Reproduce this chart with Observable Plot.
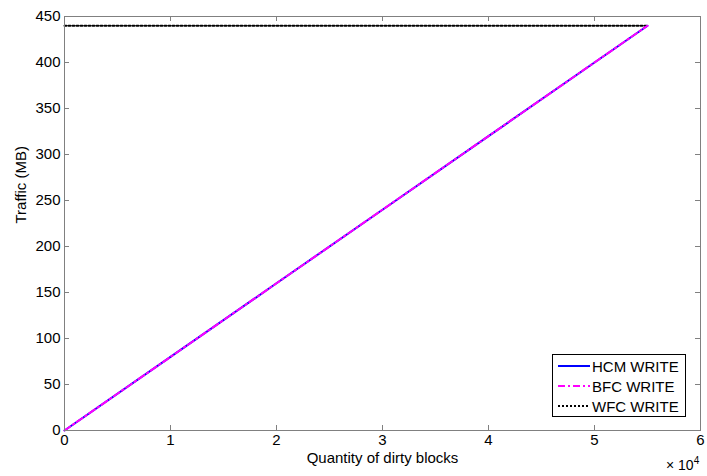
<!DOCTYPE html>
<html>
<head>
<meta charset="utf-8">
<script src="https://cdn.jsdelivr.net/npm/d3@7"></script>
<script src="https://cdn.jsdelivr.net/npm/@observablehq/plot@0.6"></script>
<style>
  html, body { margin: 0; padding: 0; background: #fff; }
  #wrap { position: relative; width: 707px; height: 476px; font-family: "Liberation Sans", Arial, sans-serif; }
  #legend { position: absolute; left: 552px; top: 354px; width: 132px; height: 61px; border: 1px solid #000; background: #fff; font-size: 15px; }
  #legend .row { position: absolute; left: 0; height: 20px; display: flex; align-items: center; }
  #legend svg { margin-left: 5px; margin-right: 2px; }
  #exp { position: absolute; left: 666px; top: 455px; font-size: 14px; }
  #exp sup { font-size: 10px; }
</style>
</head>
<body>
<div id="wrap"></div>
<script>
// Data
const dirtyBlocks = [0, 10000, 20000, 30000, 40000, 50000, 55000];
const hcmWrite   = [0, 80, 160, 240, 320, 400, 440];
const bfcWrite   = [0, 80, 160, 240, 320, 400, 440];
const wfcBlocks  = [0, 55000];
const wfcWrite   = [440, 440];
const xTicks = [0, 10000, 20000, 30000, 40000, 50000, 60000];
const yTicks = [0, 50, 100, 150, 200, 250, 300, 350, 400, 450];
const seriesNames = ["HCM WRITE", "BFC WRITE", "WFC WRITE"];
const seriesColors = ["#0000ff", "#ff00ff", "#000000"];
const seriesDash = [null, "7,3,2,3", "2,2"];

const hcm = dirtyBlocks.map((x, i) => ({x, y: hcmWrite[i]}));
const bfc = dirtyBlocks.map((x, i) => ({x, y: bfcWrite[i]}));
const wfc = wfcBlocks.map((x, i) => ({x, y: wfcWrite[i]}));

const W = 707, H = 476, mL = 64, mR = 7, mT = 16, mB = 46;
const fw = W - mL - mR, fh = H - mT - mB, tl = 5;
const axisColor = "#808080";

const chart = Plot.plot({
  width: W, height: H,
  marginLeft: mL, marginRight: mR, marginTop: mT, marginBottom: mB,
  style: {fontFamily: "'Liberation Sans', Arial, sans-serif", fontSize: "15px", color: "#000", background: "#fff"},
  x: {domain: [0, 60000], axis: null},
  y: {domain: [0, 450], axis: null},
  marks: [
    Plot.line(wfc, {x: "x", y: "y", stroke: seriesColors[2], strokeWidth: 2, strokeDasharray: seriesDash[2]}),
    Plot.line(hcm, {x: "x", y: "y", stroke: seriesColors[0], strokeWidth: 2}),
    Plot.line(bfc, {x: "x", y: "y", stroke: seriesColors[1], strokeWidth: 2, strokeDasharray: seriesDash[1]}),
    Plot.frame({stroke: axisColor}),
    // inward ticks on all four sides
    Plot.ruleX(xTicks, {x: d => d, stroke: axisColor, insetTop: fh - tl}),
    Plot.ruleX(xTicks, {x: d => d, stroke: axisColor, insetBottom: fh - tl}),
    Plot.ruleY(yTicks, {y: d => d, stroke: axisColor, insetRight: fw - tl}),
    Plot.ruleY(yTicks, {y: d => d, stroke: axisColor, insetLeft: fw - tl}),
    Plot.axisX({anchor: "bottom", ticks: xTicks, tickSize: 0, tickPadding: 4, tickFormat: d => d / 1e4, label: null, fontSize: 15}),
    Plot.axisY({anchor: "left", ticks: yTicks, tickSize: 0, tickPadding: 4, label: null, fontSize: 15}),
    Plot.text(["Quantity of dirty blocks"], {frameAnchor: "bottom", dy: 32, fontSize: 15, fill: "#000"}),
    Plot.text(["Traffic (MB)"], {frameAnchor: "left", dx: -43, rotate: -90, fontSize: 15, fill: "#000"})
  ]
});

const wrap = document.getElementById("wrap");
wrap.appendChild(chart);

const exp = document.createElement("div");
exp.id = "exp";
exp.innerHTML = "× 10<sup>4</sup>";
wrap.appendChild(exp);

const legend = document.createElement("div");
legend.id = "legend";
seriesNames.forEach((name, i) => {
  const row = document.createElement("div");
  row.className = "row";
  row.style.top = (1 + i * 20) + "px";
  row.innerHTML = `<svg width="32" height="6"><line x1="0" y1="3" x2="32" y2="3" stroke="${seriesColors[i]}" stroke-width="2" ${seriesDash[i] ? `stroke-dasharray="${seriesDash[i]}"` : ""}/></svg><span>${name}</span>`;
  legend.appendChild(row);
});
wrap.appendChild(legend);
</script>
</body>
</html>
